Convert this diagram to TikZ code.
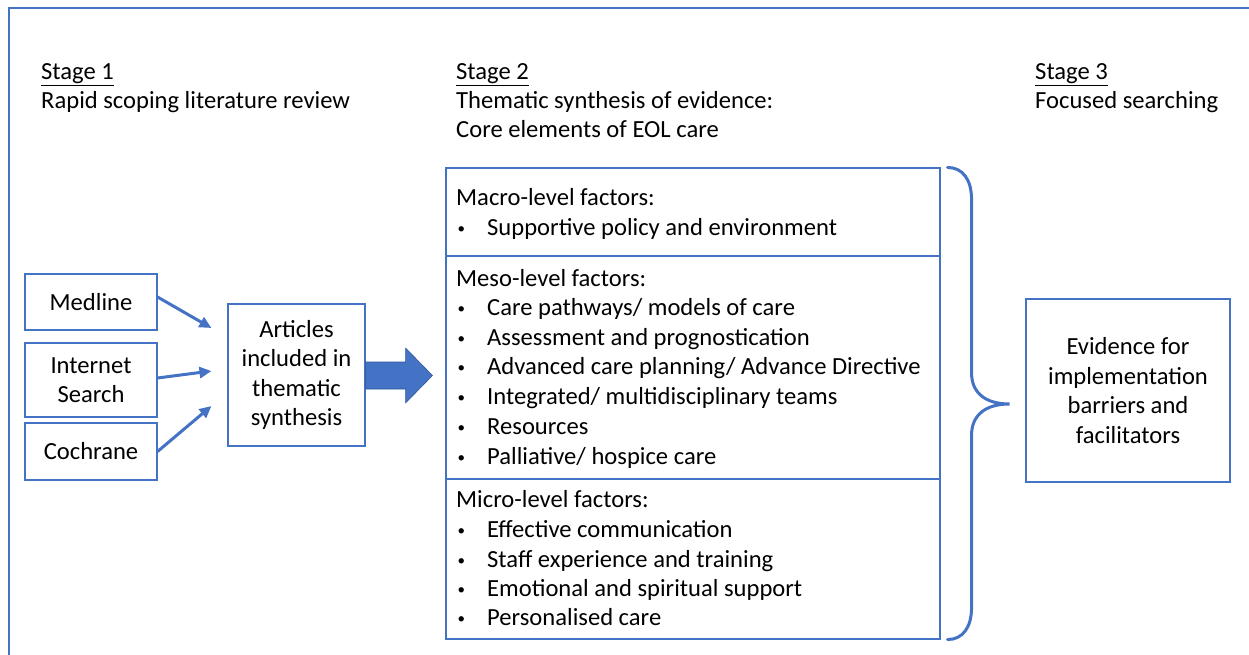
\documentclass[tikz,border=0pt]{standalone}
\usepackage{fontspec}
\setmainfont{Carlito}
\usetikzlibrary{calc,arrows.meta}
\definecolor{accent}{HTML}{4472C4}
\definecolor{accentdark}{HTML}{2F5597}
\newcommand{\smallbullet}{\raisebox{2pt}{\fontsize{15}{15}\selectfont •}}
\begin{document}
\begin{tikzpicture}[x=1pt,y=-1pt,
  every node/.style={font=\fontsize{24.6}{29.5}\selectfont, inner sep=0pt},
  box/.style={draw=accent, line width=1.1pt, align=center},
  label/.style={anchor=base west},
  feed/.style={draw=accent, line width=3pt, -{Triangle[length=12pt,width=11pt]}},
  brace/.style={draw=accent, line width=3pt, line cap=round}]
\useasboundingbox (0,0) rectangle (1249,655);

% outer frame (only its top and left edges fall inside the page)
\draw[accent, line width=2pt] (9,655) -- (9,8) -- (1249,8);

% stage headings
\node[label] (s1)  at (41,80)  {\underline{Stage 1}};
\node[label] (s1t) at (41,109) {Rapid scoping literature review};
\node[label] (s2)  at (456,80)  {\underline{Stage 2}};
\node[label] (s2t) at (456,109) {Thematic synthesis of evidence:};
\node[label] (s2u) at (456,138) {Core elements of EOL care};
\node[label] (s3)  at (1035,80)  {\underline{Stage 3}};
\node[label] (s3t) at (1035,109) {Focused searching};

% sources
\node[box, minimum width=132pt, minimum height=56pt] (med)  at (91,302)   {Medline};
\node[box, minimum width=132pt, minimum height=74pt] (inet) at (91,380)   {Internet\\Search};
\node[box, minimum width=132pt, minimum height=57pt] (coch) at (91,451.5) {Cochrane};

% articles
\node[box, minimum width=137pt, minimum height=142pt] (art) at (296.5,375)
  {Articles\\included in\\thematic\\synthesis};

% source arrows
\coordinate (medin)  at ($(art.west)+(-16,-47)$);
\coordinate (inetin) at ($(art.west)+(-16,-4)$);
\coordinate (cochin) at ($(art.west)+(-16,31)$);
\draw[feed] ($(med.east)+(0,-5)$)  -- (medin);
\draw[feed] ($(inet.east)+(0,-2)$) -- (inetin);
\draw[feed] (coch.east) -- (cochin);

% core elements box, three sections
\node[box, minimum width=494pt, minimum height=88pt]  (macro) at (693,212)   {};
\node[box, minimum width=494pt, minimum height=223pt] (meso)  at (693,367.5) {};
\node[box, minimum width=494pt, minimum height=160pt] (micro) at (693,559)   {};

% block arrow from articles to core elements
\coordinate (ba) at ($(art.east)+(0,0.5)$);
\coordinate (batip) at ($(macro.west |- ba)+(-13,0)$);
\filldraw[fill=accent, draw=accentdark, line width=0.6pt]
  ($(ba)+(0,-13.5)$) -- ($(ba)+(40,-13.5)$) -- ($(ba)+(40,-27.5)$)
  -- (batip)
  -- ($(ba)+(40,27.5)$) -- ($(ba)+(40,13.5)$) -- ($(ba)+(0,13.5)$) -- cycle;

% section texts
\node[label] (macroh) at (456,205) {Macro-level factors:};
\node[label] (mesoh)  at (456,286) {Meso-level factors:};
\node[label] (microh) at (456,507) {Micro-level factors:};
\foreach \y/\t [count=\i] in {
  235/Supportive policy and environment,
  315/Care pathways\slash{} models of care,
  345/Assessment and prognostication,
  374/Advanced care planning\slash{} Advance Directive,
  404/Integrated\slash{} multidisciplinary teams,
  434/Resources,
  464/Palliative\slash{} hospice care,
  537/Effective communication,
  567/Staff experience and training,
  596/Emotional and spiritual support,
  625/Personalised care}{
  \node[label] (b\i) at (457.5,\y) {\smallbullet};
  \node[label] (t\i) at (487,\y) {\t};
}

% evidence box
\node[box, minimum width=204pt, minimum height=183pt] (evid) at (1128,390.5)
  {Evidence for\\implementation\\barriers and\\facilitators};

% brace gathering the core elements
\coordinate (bt)  at ($(macro.north east)+(7,0)$);
\coordinate (bb)  at ($(micro.south east)+(7,0)$);
\coordinate (tip) at ($(evid.west)+(-16,13.5)$);
\coordinate (bx)  at ($(bt)+(24,0)$);
\coordinate (bt1) at ($(bt)+(24,32)$);
\coordinate (bt2) at (bx |- tip);
\coordinate (bm1) at ($(bt2)+(0,-31)$);
\coordinate (bm2) at ($(bt2)+(0,31)$);
\coordinate (bb1) at ($(bb)+(24,-32)$);
\draw[brace] (bt) .. controls ($(bt)+(15,0)$) and ($(bt1)+(0,-20)$) .. (bt1)
  -- (bm1) .. controls ($(bm1)+(0,19)$) and ($(tip)+(-25,0)$) .. (tip)
  .. controls ($(tip)+(-25,0)$) and ($(bm2)+(0,-19)$) .. (bm2)
  -- (bb1) .. controls ($(bb1)+(0,20)$) and ($(bb)+(15,0)$) .. (bb);
\end{tikzpicture}
\end{document}
